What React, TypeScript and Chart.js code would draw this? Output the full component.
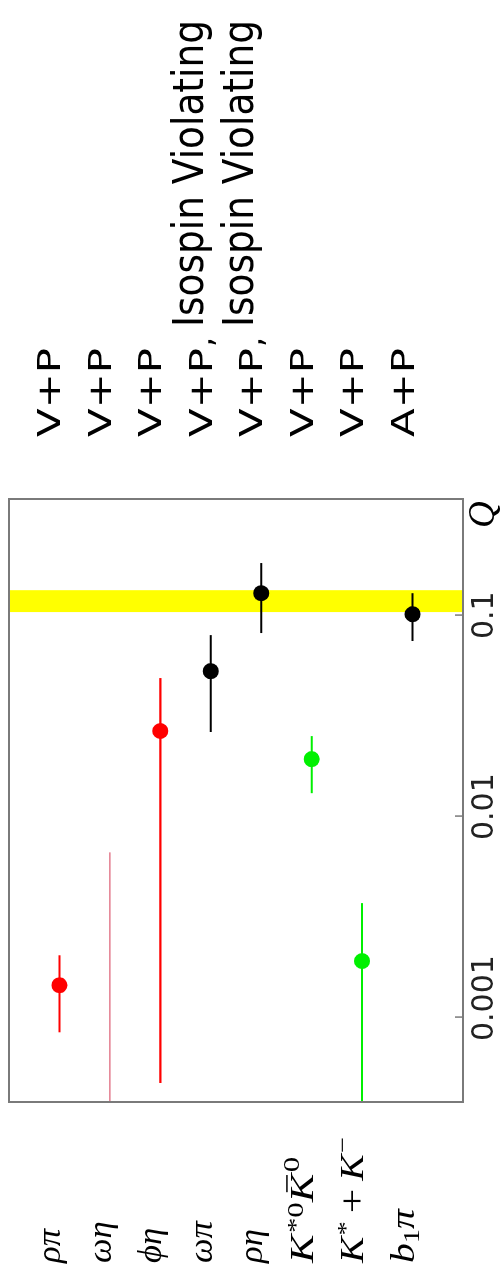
import React, { useEffect, useRef } from 'react';
import { Chart, registerables } from 'chart.js';

Chart.register(...registerables);

// ---- data ----
const categories = ['ρπ', 'ωη', 'ϕη', 'ωπ', 'ρη', 'K*0K̄0', 'K*+K−', 'b1π'];
const qCentral: (number | null)[] = [0.00144, null, 0.0265, 0.0526, 0.1285, 0.0192, 0.0019, 0.101];
const qLow = [0.00084, 0.0001, 0.00047, 0.0262, 0.0814, 0.013, 0.0001, 0.0743];
const qHigh = [0.00203, 0.0066, 0.0486, 0.0795, 0.1815, 0.025, 0.00369, 0.1285];
const decayTypes = ['V+P', 'V+P', 'V+P', 'V+P,', 'V+P,', 'V+P', 'V+P', 'A+P'];
const notes = ['', '', '', 'Isospin Violating', 'Isospin Violating', '', '', ''];
const qTicks = [0.001, 0.01, 0.1];
const qTickLabels = ['0.001', '0.01', '0.1'];
const bandRange = [0.1035, 0.133];
const qRange = [0.000378, 0.378];
const axisTitle = 'Q';

// ---- styles ----
const RED = '#ff0000';
const PINK = '#de6378';
const BLACK = '#000000';
const GREEN = '#00f000';
const seriesColors = [RED, PINK, RED, BLACK, BLACK, GREEN, GREEN, BLACK];
const barWidths = [2, 1.3, 2.2, 2, 2, 2, 2, 2];
const labelStretch = [1.05, 1.05, 1.05, 1.05, 1.05, 1.3, 1.2, 1.2];

type Seg = { t: string; m: 'it' | 'rm' | 'sup' | 'sub' | 'op'; bar?: boolean };
const labelParts: Seg[][] = [
  [{ t: 'ρπ', m: 'it' }],
  [{ t: 'ωη', m: 'it' }],
  [{ t: 'ϕη', m: 'it' }],
  [{ t: 'ωπ', m: 'it' }],
  [{ t: 'ρη', m: 'it' }],
  [{ t: 'K', m: 'it' }, { t: '*0', m: 'sup' }, { t: 'K', m: 'it', bar: true }, { t: '0', m: 'sup' }],
  [{ t: 'K', m: 'it' }, { t: '*', m: 'sup' }, { t: '+', m: 'op' }, { t: 'K', m: 'it' }, { t: '−', m: 'sup' }],
  [{ t: 'b', m: 'it' }, { t: '1', m: 'sub' }, { t: 'π', m: 'it' }],
];

const W = 1280;
const H = 503;
const SERIF = '"Liberation Serif", "DejaVu Serif", serif';
const SANS = '"DejaVu Sans", sans-serif';

function drawRich(ctx: CanvasRenderingContext2D, segs: Seg[], x: number, base: number, size: number, stretch: number) {
  ctx.save();
  ctx.translate(x, base);
  ctx.scale(stretch, 1);
  let cx = 0;
  for (const s of segs) {
    let fs = size;
    let dy = 0;
    let italic = true;
    let pre = 0;
    let post = 0;
    if (s.m === 'sup') {
      fs = size * 0.72;
      dy = s.t.startsWith('*') ? -size * 0.3 : -size * 0.4;
      italic = false;
      pre = 1;
    } else if (s.m === 'sub') {
      fs = size * 0.72;
      dy = size * 0.18;
      italic = false;
    } else if (s.m === 'op') {
      fs = size * 1.1;
      italic = false;
      pre = size * 0.2;
      post = size * 0.2;
      dy = size * 0.02;
    } else if (s.m === 'rm') {
      italic = false;
    }
    ctx.font = `${italic ? 'italic ' : ''}${fs}px ${SERIF}`;
    cx += pre;
    ctx.fillText(s.t, cx, dy);
    const w = ctx.measureText(s.t).width;
    if (s.bar) {
      ctx.lineWidth = 1.5;
      ctx.beginPath();
      const yb = -size * 0.78;
      ctx.moveTo(cx + w * 0.35, yb);
      ctx.lineTo(cx + w * 0.95, yb);
      ctx.stroke();
    }
    cx += w + post;
  }
  ctx.restore();
}

function drawFitted(ctx: CanvasRenderingContext2D, text: string, x: number, base: number, font: string, target: number) {
  ctx.font = font;
  const w = ctx.measureText(text).width;
  ctx.save();
  ctx.translate(x, base);
  ctx.scale(target / w, 1);
  ctx.fillText(text, 0, 0);
  ctx.restore();
}

const decorPlugin = {
  id: 'decor',
  beforeDatasetsDraw(chart: any) {
    const { ctx, chartArea: a, scales } = chart;
    const xs = scales.x;
    ctx.save();
    const b0 = xs.getPixelForValue(bandRange[0]);
    const b1 = xs.getPixelForValue(bandRange[1]);
    ctx.fillStyle = '#ffff00';
    ctx.fillRect(b0, a.top, b1 - b0, a.bottom - a.top);
    ctx.restore();
  },
  afterDraw(chart: any) {
    const { ctx, chartArea: a, scales } = chart;
    const xs = scales.x;
    const ys = scales.y;
    ctx.save();
    // frame
    ctx.strokeStyle = '#7a7a7a';
    ctx.lineWidth = 2;
    ctx.strokeRect(a.left, a.top, a.right - a.left, a.bottom - a.top);
    // inward tick marks + labels
    ctx.lineWidth = 1.5;
    ctx.fillStyle = '#222';
    ctx.textBaseline = 'alphabetic';
    ctx.textAlign = 'left';
    qTicks.forEach((t, i) => {
      const px = xs.getPixelForValue(t);
      ctx.beginPath();
      ctx.moveTo(px, a.bottom);
      ctx.lineTo(px, a.bottom - 8);
      ctx.stroke();
      ctx.font = `30px ${SANS}`;
      ctx.fillText(qTickLabels[i], px - 24, a.bottom + 30);
    });
    // axis title
    ctx.fillStyle = '#000';
    ctx.font = `italic 37px ${SERIF}`;
    ctx.fillText(axisTitle, a.right - 29, a.bottom + 31);
    // category labels (left) and decay types (right)
    ctx.strokeStyle = '#000';
    categories.forEach((_, i) => {
      const py = ys.getPixelForValue(i + 1);
      drawRich(ctx, labelParts[i], 17, py + 1, 33, labelStretch[i]);
      const dt = decayTypes[i];
      const core = dt.replace(',', '');
      drawFitted(ctx, core, a.right + 62, py + 1, `32px ${SANS}`, 89);
      if (dt.endsWith(',')) {
        ctx.font = `32px ${SANS}`;
        ctx.fillText(',', a.right + 62 + 89 + 1, py + 1);
      }
      if (notes[i]) {
        drawFitted(ctx, notes[i], a.right + 172, py - 8, `42px ${SANS}`, 307);
      }
    });
    ctx.restore();
  },
};

export default function App() {
  const ref = useRef<HTMLCanvasElement | null>(null);

  useEffect(() => {
    if (!ref.current) return;
    const barSets = categories.map((c, i) => ({
      type: 'scatter' as const,
      label: c,
      data: [
        { x: qLow[i], y: i + 1 },
        { x: qHigh[i], y: i + 1 },
      ],
      showLine: true,
      borderColor: seriesColors[i],
      borderWidth: barWidths[i],
      pointRadius: 0,
      pointHoverRadius: 0,
    }));
    const pts: { x: number; y: number }[] = [];
    const ptColors: string[] = [];
    qCentral.forEach((v, i) => {
      if (v !== null) {
        pts.push({ x: v, y: i + 1 });
        ptColors.push(seriesColors[i]);
      }
    });
    const chart = new Chart(ref.current, {
      type: 'scatter',
      data: {
        datasets: [
          ...barSets,
          {
            label: 'central',
            data: pts,
            pointRadius: 8,
            pointBackgroundColor: ptColors,
            pointBorderColor: ptColors,
            pointBorderWidth: 0,
          } as any,
        ],
      },
      options: {
        responsive: false,
        animation: false,
        devicePixelRatio: 1,
        layout: { padding: { left: 178, right: W - 781, top: 9, bottom: H - 463 } },
        plugins: { legend: { display: false }, tooltip: { enabled: false } },
        scales: {
          x: { type: 'logarithmic', min: qRange[0], max: qRange[1], display: false },
          y: { type: 'linear', min: 0, max: 9, reverse: true, display: false },
        },
      },
      plugins: [decorPlugin],
    });
    return () => chart.destroy();
  }, []);

  return (
    <div
      style={{
        position: 'fixed',
        left: 0,
        top: 0,
        width: W,
        height: H,
        background: '#fff',
        transformOrigin: '0 0',
        transform: `translateY(${W}px) rotate(-90deg)`,
      }}
    >
      <canvas ref={ref} width={W} height={H} style={{ width: W, height: H, display: 'block' }} />
    </div>
  );
}
